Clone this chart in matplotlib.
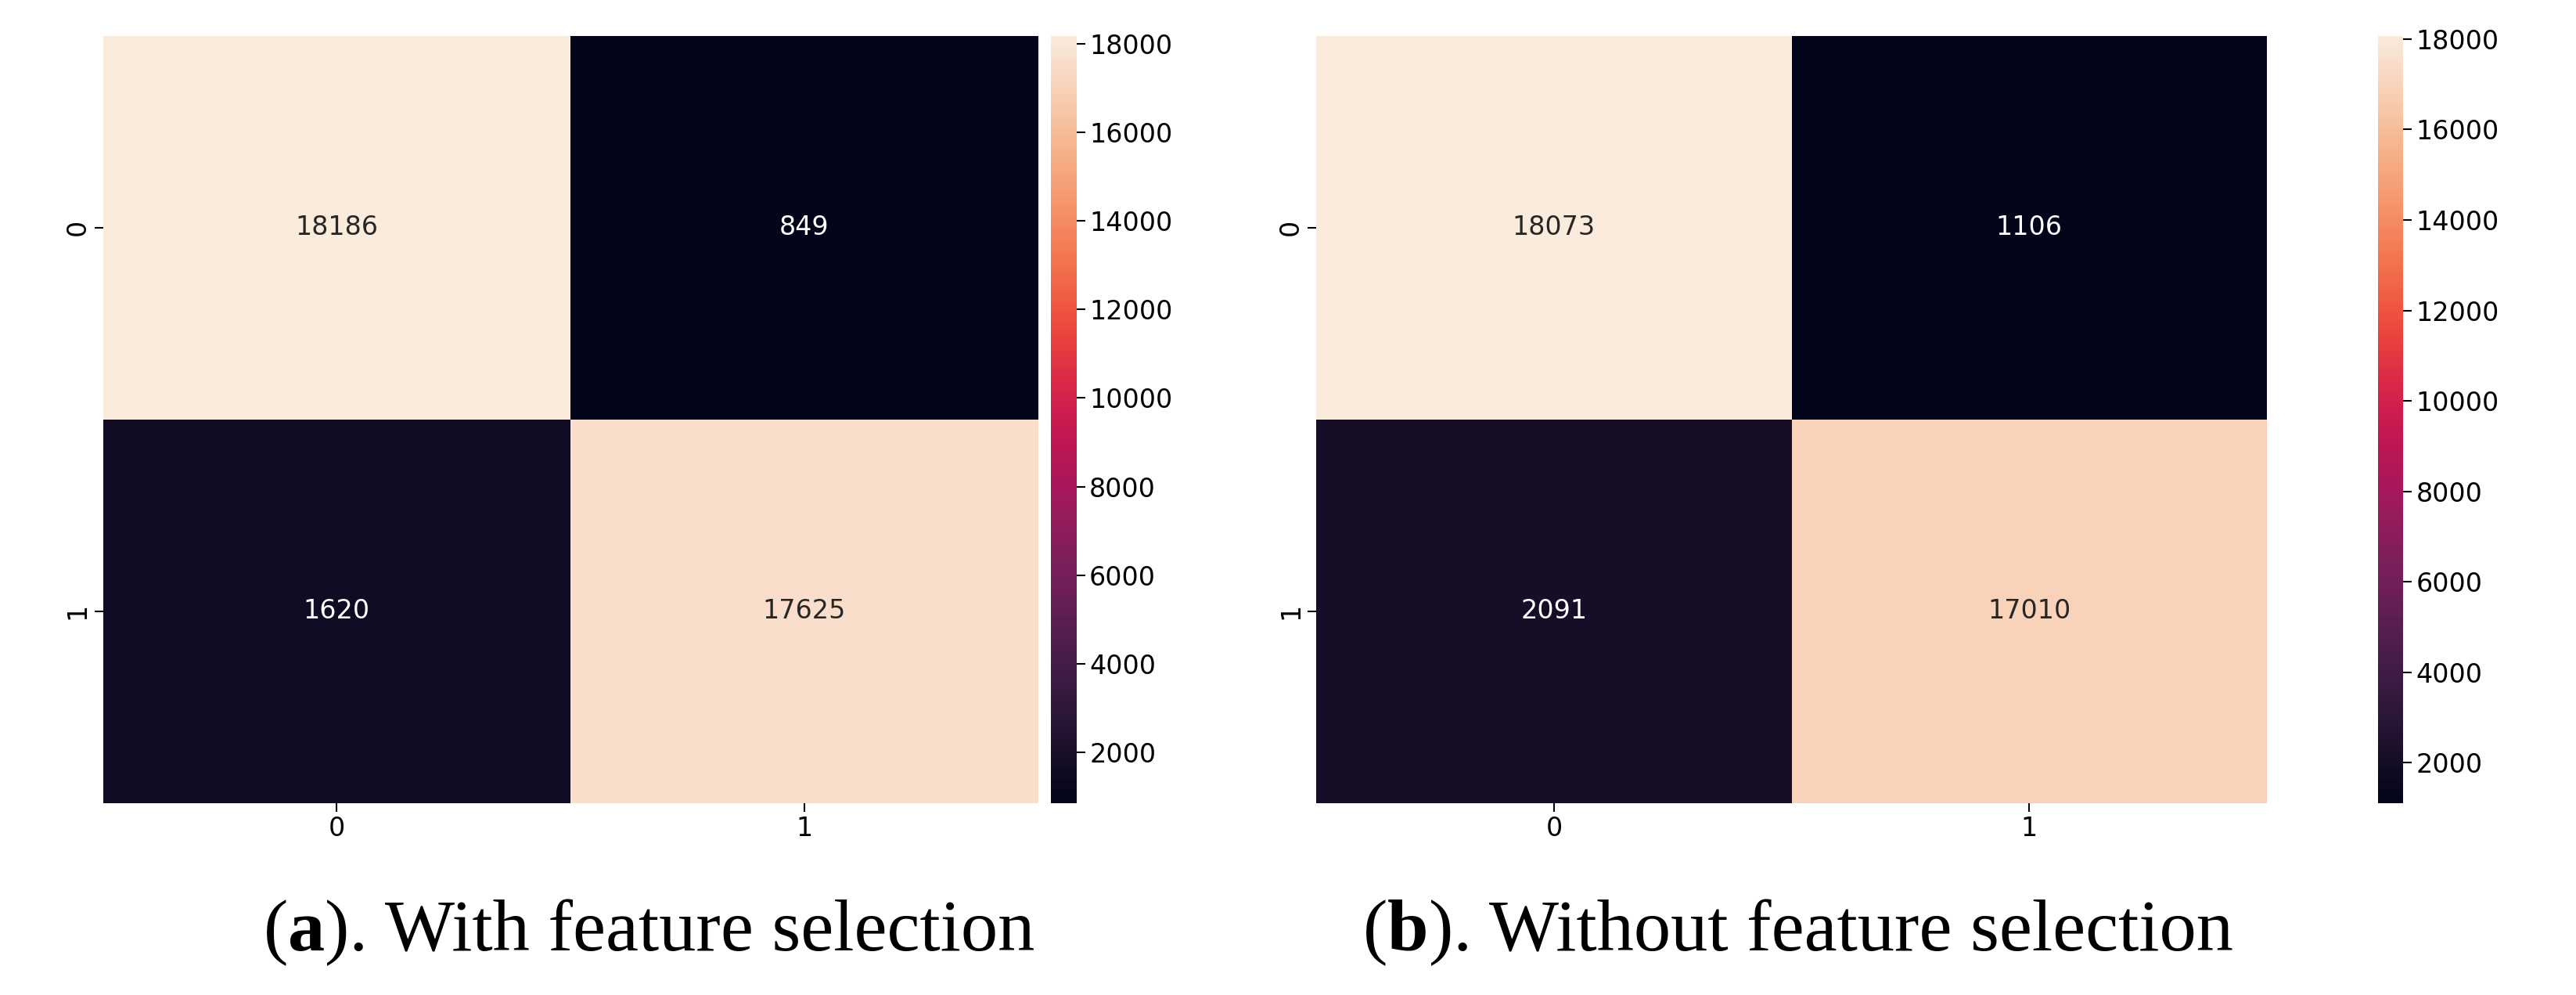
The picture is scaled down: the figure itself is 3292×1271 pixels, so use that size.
import matplotlib
matplotlib.use("Agg")
import matplotlib.pyplot as plt
import seaborn as sns
import numpy as np

labels = ["0", "1"]
cm_with = [[18186, 849], [1620, 17625]]
cm_without = [[18073, 1106], [2091, 17010]]
cbar_ticks = [2000, 4000, 6000, 8000, 10000, 12000, 14000, 16000, 18000]

fig = plt.figure(figsize=(32.92, 12.71), dpi=100)

panels = [
    (cm_with, [0.040, 0.193, 0.363, 0.771], [0.408, 0.193, 0.010, 0.771]),
    (cm_without, [0.511, 0.193, 0.369, 0.771], [0.923, 0.193, 0.010, 0.771]),
]
for data, axpos, cbpos in panels:
    ax = fig.add_axes(axpos)
    cax = fig.add_axes(cbpos)
    sns.heatmap(np.array(data), annot=True, fmt="d", cmap="rocket", ax=ax,
                cbar_ax=cax, xticklabels=labels, yticklabels=labels,
                annot_kws={"fontsize": 24})
    ax.tick_params(labelsize=24, length=8, width=1.5)
    cax.set_yticks(cbar_ticks)
    cax.tick_params(labelsize=24, length=8, width=1.5)
    for s in cax.spines.values():
        s.set_visible(False)

# captions with bold letter
fig.canvas.draw()
r = fig.canvas.get_renderer()
for cx, letter, rest in [(0.252, "a", "). With feature selection"),
                         (0.698, "b", "). Without feature selection")]:
    parts = [("(", "normal"), (letter, "bold"), (rest, "normal")]
    texts = []
    for s, w in parts:
        t = fig.text(0, 0.045, s, fontsize=68, family="Liberation Serif",
                     fontweight=w, va="baseline")
        texts.append(t)
    widths = [t.get_window_extent(r).width / fig.bbox.width for t in texts]
    x = cx - sum(widths) / 2
    for t, w in zip(texts, widths):
        t.set_x(x)
        x += w

fig.savefig("out.png", dpi=100)
